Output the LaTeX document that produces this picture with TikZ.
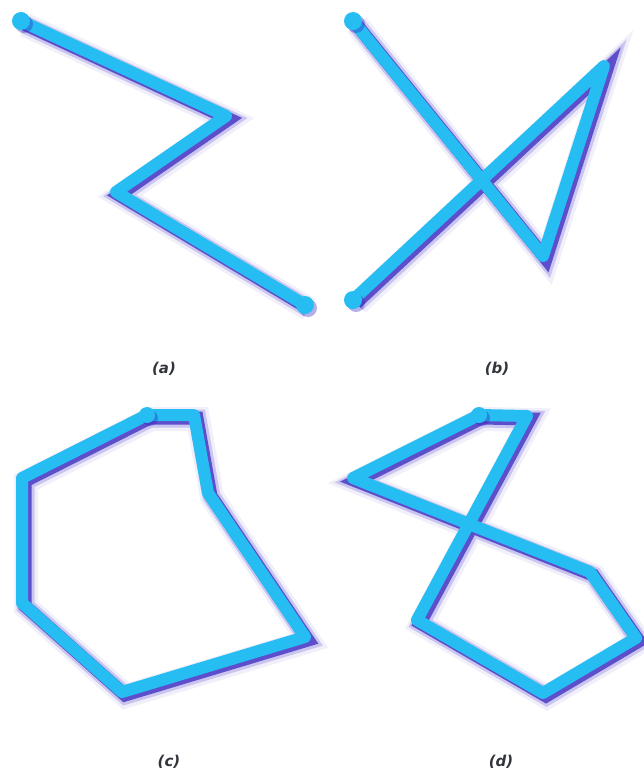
\documentclass[tikz,border=0pt]{standalone}
\usepackage{fontspec}
\usepackage{xcolor}
\usepackage{tikz}
\newfontfamily\capfont{DejaVu Sans}
\definecolor{cwire}{RGB}{38,190,242}
\definecolor{cshade}{RGB}{48,30,190}
\definecolor{ccap}{RGB}{50,54,60}

\begin{document}
\begin{tikzpicture}[x=1pt,y=-1pt,
  wire/.style={draw=cwire,line width=12pt,line join=round,line cap=round,
    preaction={draw=cshade,line width=24pt,draw opacity=0.07,transform canvas={shift={(4,4)}}},
    preaction={draw=cshade,line width=18pt,draw opacity=0.2,transform canvas={shift={(3.5,3.5)}}},
    preaction={draw=cshade,line width=13pt,draw opacity=0.7,transform canvas={shift={(3,3)}}}},
  enddot/.style={fill=cwire,
    preaction={fill=cshade,fill opacity=0.35,transform canvas={shift={(3,3)}}}},
  panellabel/.style={font=\capfont\bfseries\itshape\fontsize{15}{17}\selectfont,text=ccap},
]
\fill[white] (0,0) rectangle (643,774);
\useasboundingbox (0,0) rectangle (643,774);

% (a) open zigzag
\coordinate (a1) at (21,21);
\coordinate (a2) at (226,116);
\coordinate (a3) at (116,192);
\coordinate (a4) at (305,305);
\draw[wire] (a1) -- (a2) -- (a3) -- (a4);
\fill[enddot] (a1) circle (9);
\fill[enddot] (a4) circle (9);

% (b) open, crossing itself
\coordinate (b1) at (353,21);
\coordinate (b2) at (543,256);
\coordinate (b3) at (604,66);
\coordinate (b4) at (353,300);
\draw[wire] (b1) -- (b2) -- (b3) -- (b4);
\fill[enddot] (b1) circle (9);
\fill[enddot] (b4) circle (9);

% (c) closed, simple
\coordinate (c1) at (147,415);
\coordinate (c2) at (194,415);
\coordinate (c3) at (208,493);
\coordinate (c4) at (305,637);
\coordinate (c5) at (122,692);
\coordinate (c6) at (22,603);
\coordinate (c7) at (22,478);
\draw[wire] (c1) -- (c2) -- (c3) -- (c4) -- (c5) -- (c6) -- (c7) -- cycle;
\fill[enddot] (c1) circle (8);

% (d) closed, crossing itself
\coordinate (d1) at (479,415);
\coordinate (d2) at (527,416);
\coordinate (d3) at (417,620);
\coordinate (d4) at (543,693);
\coordinate (d5) at (636,638);
\coordinate (d6) at (590,572);
\coordinate (d7) at (353,478);
\draw[wire] (d1) -- (d2) -- (d3) -- (d4) -- (d5) -- (d6) -- (d7) -- cycle;
\fill[enddot] (d1) circle (8);

\node[panellabel] (capa) at (164,369) {(a)};
\node[panellabel] (capb) at (497,369) {(b)};
\node[panellabel] (capc) at (169,762) {(c)};
\node[panellabel] (capd) at (501,762) {(d)};
\end{tikzpicture}
\end{document}
